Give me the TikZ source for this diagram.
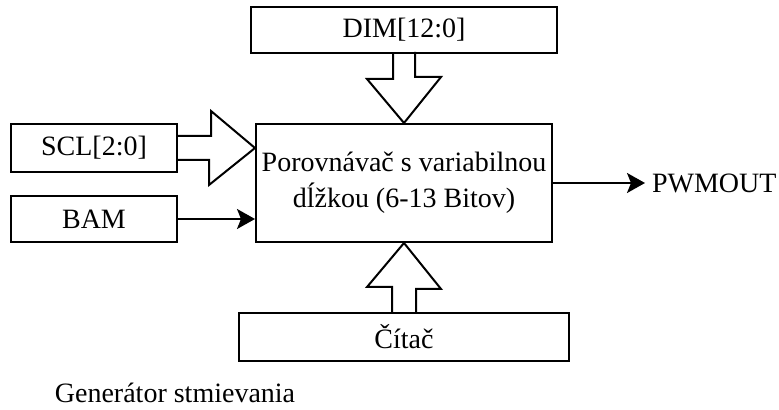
\documentclass[tikz,border=0pt]{standalone}
\usepackage{fontspec}
\setmainfont{Liberation Serif}
\usetikzlibrary{arrows.meta,calc}

\begin{document}
\begin{tikzpicture}[x=0.5pt,y=-0.5pt,line width=1pt,
    font=\fontsize{14pt}{18pt}\selectfont,
    block/.style={rectangle,draw,inner sep=0pt,align=center},
    bus/.style={draw,line join=miter},
    wire/.style={draw,-{Stealth[length=9pt,width=10pt,inset=2pt]}}]
\useasboundingbox (0,0) rectangle (779,410);
\node[block,minimum width=153pt,minimum height=23pt] (dim) at (404,30) {DIM[12:0]};
\node[block,minimum width=83pt,minimum height=24pt] (scl) at (94,148) {SCL[2:0]};
\node[block,minimum width=83pt,minimum height=23pt] (bam) at (94,219) {BAM};
\node[block,minimum width=148pt,minimum height=59pt] (main) at (404,183) {Porovnávač s variabilnou\\dĺžkou (6-13 Bitov)};
\node[block,minimum width=165pt,minimum height=24pt] (cit) at (404,337) {Čítač};
\node[anchor=west,inner sep=3pt] (pwm) at (645,183) {PWMOUT};
\node (gen) at (175,393) {Generátor stmievania};
\draw[bus] (dim.south) ++(-11,0) -- ++(0,25) -- ++(-26,0) -- (main.north)
    -- ++(37,-46) -- ++(-26,0) -- ++(0,-25);
\draw[bus] (scl.east) ++(0,-12) -- ++(33,0) -- ++(0,-25) -- (scl.east -| main.west)
    -- ++(-46,37) -- ++(0,-25) -- ++(-33,0);
\draw[bus] (cit.north) ++(-12,0) -- ++(0,-25) -- ++(-25,0) -- (main.south)
    -- ++(37,46) -- ++(-25,0) -- ++(0,25);
\draw[wire] (bam.east) -- (bam.east -| main.west);
\draw[wire] (main.east) -- (pwm.west);
\end{tikzpicture}
\end{document}
